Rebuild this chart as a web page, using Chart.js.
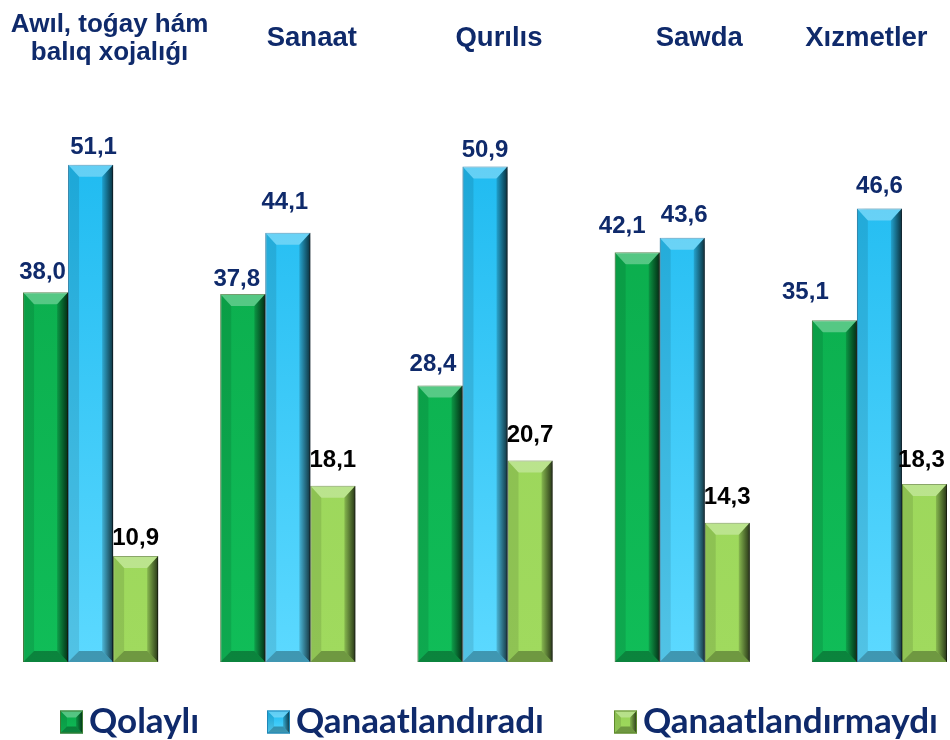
<!DOCTYPE html>
<html>
<head>
<meta charset="utf-8">
<script src="https://cdn.jsdelivr.net/npm/chart.js@4.4.1/dist/chart.umd.min.js"></script>
<style>
    html, body { margin: 0; padding: 0; background: #fff; overflow: hidden; }
    #wrap { position: absolute; left: -8px; top: 0; width: 986px; height: 740px; }
</style>
</head>
<body>
<div id="wrap"><canvas id="surveyChart"></canvas></div>
<script>
const categories = [["Awıl, toǵay hám", "balıq xojalıǵı"], ["Sanaat"], ["Qurılıs"], ["Sawda"], ["Xızmetler"]];
const seriesNames = ["Qolaylı", "Qanaatlandıradı", "Qanaatlandırmaydı"];
const qolayli = [38.0, 37.8, 28.4, 42.1, 35.1];
const qanaatlandiradi = [51.1, 44.1, 50.9, 43.6, 46.6];
const qanaatlandirmaydi = [10.9, 18.1, 20.7, 14.3, 18.3];

// styling only: label nudges copied from the hand-placed labels of the original
const NAVY = "#0f2a6b";
const titleShift = [19, 24, 14, 17, -13];
const labelShiftX = [[-3, -6, -7, -15, -29], [3, -3, 0, 2, 0], [0, 0, 0, 0, -3]];
const labelGap = [[13, 8, 15, 19, 21], [11, 24, 10, 16, 15], [11, 19, 19, 19, 17]];
const legendX = [68, 275, 622];
const seriesColors = [
    { top: "#0aa84a", bottom: "#10bd58", border: "#3f7d35", label: NAVY },
    { top: "#16b6ee", bottom: "#5cd9ff", border: "#1f86b8", label: NAVY },
    { top: "#97d257", bottom: "#a0da5e", border: "#5f8a2c", label: "#000" }
];

function fmt(v) {
    return v.toFixed(1).replace(".", ",");
}

function barGradient(idx) {
    return function(context) {
        const area = context.chart.chartArea;
        if (!area) return seriesColors[idx].top;
        const g = context.chart.ctx.createLinearGradient(0, area.top, 0, area.bottom);
        g.addColorStop(0, seriesColors[idx].top);
        g.addColorStop(1, seriesColors[idx].bottom);
        return g;
    };
}

function drawBevel(ctx, x0, y0, x1, y1, bt, bs) {
    const poly = (pts, fill) => {
        ctx.beginPath();
        ctx.moveTo(pts[0][0], pts[0][1]);
        for (let i = 1; i < pts.length; i++) ctx.lineTo(pts[i][0], pts[i][1]);
        ctx.closePath();
        ctx.fillStyle = fill;
        ctx.fill();
    };
    // top
    poly([[x0, y0], [x1, y0], [x1 - bs, y0 + bt], [x0 + bs, y0 + bt]], "rgba(255,255,255,0.3)");
    // left
    poly([[x0, y0], [x0 + bs, y0 + bt], [x0 + bs, y1 - bs], [x0, y1]], "rgba(0,0,0,0.1)");
    // right
    const rg = ctx.createLinearGradient(x1 - bs, 0, x1, 0);
    rg.addColorStop(0, "rgba(0,0,0,0.15)");
    rg.addColorStop(1, "rgba(0,0,0,0.75)");
    poly([[x1, y0], [x1, y1], [x1 - bs, y1 - bs], [x1 - bs, y0 + bt]], rg);
    // bottom
    poly([[x0, y1], [x1, y1], [x1 - bs, y1 - bs], [x0 + bs, y1 - bs]], "rgba(0,0,0,0.3)");
}

const bevelPlugin = {
    id: "bevel",
    beforeDatasetDraw(chart, args) {
        const ctx = chart.ctx;
        ctx.save();
        ctx.shadowColor = "rgba(0,0,0,0.35)";
        ctx.shadowBlur = 7;
        ctx.shadowOffsetX = 4;
        ctx.shadowOffsetY = 2;
    },
    afterDatasetDraw(chart, args) {
        const ctx = chart.ctx;
        ctx.restore();
        ctx.save();
        args.meta.data.forEach(bar => {
            const x0 = bar.x - bar.width / 2;
            const x1 = bar.x + bar.width / 2;
            drawBevel(ctx, x0, bar.y, x1, bar.base, 12, 11);
        });
        ctx.restore();
    }
};

const textPlugin = {
    id: "texts",
    afterDraw(chart) {
        const ctx = chart.ctx;
        const xs = chart.scales.x;
        ctx.save();

        // category titles
        ctx.fillStyle = NAVY;
        ctx.textAlign = "center";
        ctx.textBaseline = "middle";
        categories.forEach((lines, i) => {
            const cx = xs.getPixelForValue(i) + titleShift[i];
            if (lines.length === 2) {
                ctx.font = "bold 26px 'Liberation Sans', Arial, sans-serif";
                ctx.fillText(lines[0], cx, 25);
                ctx.fillText(lines[1], cx, 53);
            } else {
                ctx.font = "bold 27.5px 'Liberation Sans', Arial, sans-serif";
                ctx.fillText(lines[0], cx, 38);
            }
        });

        // value labels
        ctx.font = "bold 24px 'Liberation Sans', Arial, sans-serif";
        ctx.textBaseline = "alphabetic";
        chart.data.datasets.forEach((ds, di) => {
            const meta = chart.getDatasetMeta(di);
            ctx.fillStyle = seriesColors[di].label;
            meta.data.forEach((bar, i) => {
                ctx.fillText(fmt(ds.data[i]), bar.x + labelShiftX[di][i], bar.y - labelGap[di][i]);
            });
        });

        // legend
        ctx.font = "bold 35px Lato, 'Open Sans', sans-serif";
        ctx.textAlign = "left";
        const box = 23;
        const yMid = 722;
        chart.data.datasets.forEach((ds, di) => {
            const x = legendX[di];
            const g = ctx.createLinearGradient(0, yMid - box / 2, 0, yMid + box / 2);
            g.addColorStop(0, seriesColors[di].top);
            g.addColorStop(1, seriesColors[di].bottom);
            ctx.fillStyle = g;
            ctx.fillRect(x, yMid - box / 2, box, box);
            drawBevel(ctx, x, yMid - box / 2, x + box, yMid + box / 2, 7, 7);
            ctx.strokeStyle = seriesColors[di].border;
            ctx.lineWidth = 1;
            ctx.strokeRect(x + 0.5, yMid - box / 2 + 0.5, box - 1, box - 1);
            ctx.fillStyle = NAVY;
            ctx.fillText(ds.label, x + box + 6, 733);
        });
        ctx.restore();
    }
};

const ctx = document.getElementById("surveyChart").getContext("2d");
const surveyChart = new Chart(ctx, {
    type: "bar",
    data: {
        labels: categories.map(c => c.join(" ")),
        datasets: [
            { label: seriesNames[0], data: qolayli, backgroundColor: barGradient(0), borderColor: seriesColors[0].border, borderWidth: 1 },
            { label: seriesNames[1], data: qanaatlandiradi, backgroundColor: barGradient(1), borderColor: seriesColors[1].border, borderWidth: 1 },
            { label: seriesNames[2], data: qanaatlandirmaydi, backgroundColor: barGradient(2), borderColor: seriesColors[2].border, borderWidth: 1 }
        ]
    },
    options: {
        responsive: true,
        maintainAspectRatio: false,
        animation: false,
        layout: {
            padding: { top: 78, bottom: 78, left: 0, right: 0 }
        },
        datasets: {
            bar: {
                categoryPercentage: 0.685,
                barPercentage: 1.0
            }
        },
        plugins: {
            legend: { display: false },
            tooltip: { enabled: false }
        },
        scales: {
            x: { display: false },
            y: { display: false, min: 0, max: 60 }
        }
    },
    plugins: [bevelPlugin, textPlugin]
});
</script>
</body>
</html>
